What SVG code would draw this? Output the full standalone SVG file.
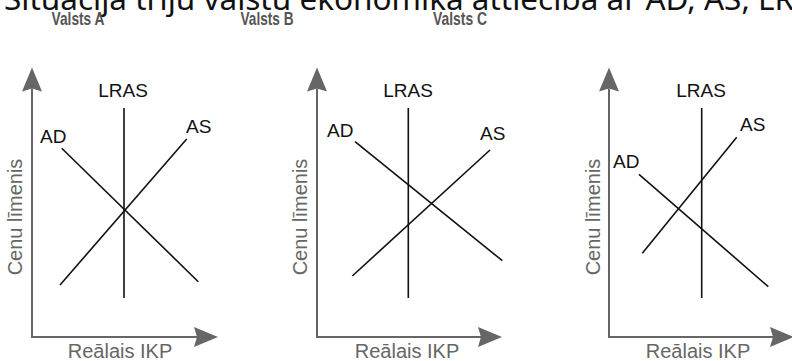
<svg xmlns="http://www.w3.org/2000/svg" width="792" height="361" viewBox="0 0 792 361">
<style>
.head{font-family:"Noto Sans","Open Sans",sans-serif;font-size:31.5px;fill:#111}
.ttl{font-family:"Liberation Sans",Arial,sans-serif;font-size:19px;font-weight:bold;fill:#555;text-anchor:middle}
.ax{fill:none;stroke:#666;stroke-width:2}
.axl{font-family:"Liberation Sans",Arial,sans-serif;font-size:20px;fill:#666;text-anchor:middle}
.cur{stroke:#111;stroke-width:1.6;fill:none}
.lbl{font-family:"Liberation Sans",Arial,sans-serif;font-size:19px;fill:#111}
.mid{text-anchor:middle}
</style>
<defs>
<marker id="arr" markerUnits="userSpaceOnUse" viewBox="-1 -11 26 22" refX="3" refY="0" markerWidth="26" markerHeight="22" orient="auto-start-reverse">
<path d="M24,0 L0,-10 L3,0 L0,10 Z" fill="#666"/>
</marker>
</defs>
<rect width="792" height="361" fill="#fff"/>
<text class="head" x="4" y="10">Situācija trīju valstu ekonomikā attiecībā ar AD, AS, LRAS</text>
<g id="titles">
<text class="ttl" x="78" y="25" textLength="53" lengthAdjust="spacingAndGlyphs">Valsts A</text>
<text class="ttl" x="267" y="25" textLength="53" lengthAdjust="spacingAndGlyphs">Valsts B</text>
<text class="ttl" x="460" y="25" textLength="54" lengthAdjust="spacingAndGlyphs">Valsts C</text>
</g>
<g id="panelA">
<path class="ax" d="M32,88.5 L32,337 L197,337" marker-start="url(#arr)" marker-end="url(#arr)"/>
<text class="axl" transform="translate(22,217) rotate(-90)">Cenu līmenis</text>
<text class="axl" x="120" y="358">Reālais IKP</text>
<text class="lbl mid" x="123" y="97">LRAS</text>
<text class="lbl" x="40" y="143">AD</text>
<text class="lbl" x="186" y="133">AS</text>
</g>
<g id="panelB">
<path class="ax" d="M317,88.5 L317,337 L481,337" marker-start="url(#arr)" marker-end="url(#arr)"/>
<text class="axl" transform="translate(307,217) rotate(-90)">Cenu līmenis</text>
<text class="axl" x="407" y="358">Reālais IKP</text>
<text class="lbl mid" x="408" y="97">LRAS</text>
<text class="lbl" x="327" y="137">AD</text>
<text class="lbl" x="480" y="140">AS</text>
</g>
<g id="panelC">
<path class="ax" d="M609,88.5 L609,337 L773,337" marker-start="url(#arr)" marker-end="url(#arr)"/>
<text class="axl" transform="translate(600,217) rotate(-90)">Cenu līmenis</text>
<text class="axl" x="698" y="358">Reālais IKP</text>
<text class="lbl mid" x="701" y="97">LRAS</text>
<text class="lbl" x="613" y="168">AD</text>
<text class="lbl" x="740" y="131">AS</text>
</g>
<g id="connectors">
<line class="cur" x1="124" y1="108" x2="124" y2="298"/>
<line class="cur" x1="61.7" y1="148.3" x2="198.3" y2="281.7"/>
<line class="cur" x1="60" y1="285" x2="186.7" y2="139"/>
<line class="cur" x1="408.3" y1="108" x2="408.3" y2="298"/>
<line class="cur" x1="355" y1="141.7" x2="502.3" y2="260.7"/>
<line class="cur" x1="352.3" y1="276" x2="490" y2="150"/>
<line class="cur" x1="701.7" y1="108" x2="701.7" y2="298"/>
<line class="cur" x1="639" y1="174.3" x2="768.3" y2="286.7"/>
<line class="cur" x1="642.3" y1="253.3" x2="736.7" y2="137.3"/>
</g>
</svg>
